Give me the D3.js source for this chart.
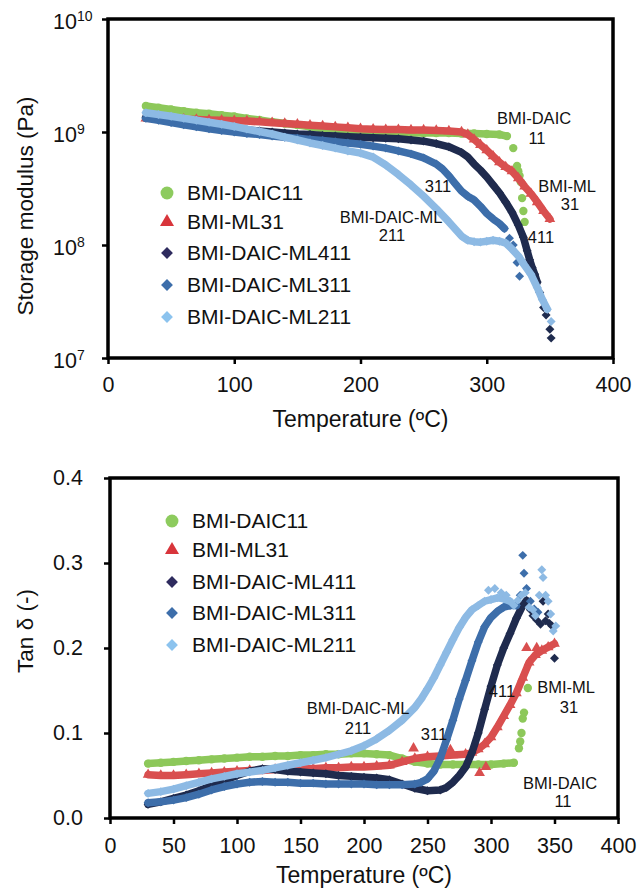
<!DOCTYPE html>
<html><head><meta charset="utf-8">
<script src="https://cdn.jsdelivr.net/npm/d3@7"></script>
<style>
body{margin:0;background:#fff}
text{font-family:Arial,"Liberation Sans",Helvetica,sans-serif;fill:#111}
</style>
</head><body>
<svg id="c" width="639" height="890"></svg>
<script>
// ---------- DATA ----------
const seriesNames = ["BMI-DAIC11","BMI-ML31","BMI-DAIC-ML411","BMI-DAIC-ML311","BMI-DAIC-ML211"];
const topXTicks = [0,100,200,300,400];
const topYTicks = [1e7,1e8,1e9,1e10];
const botXTicks = [0,50,100,150,200,250,300,350,400];
const botYTicks = [0,0.1,0.2,0.3,0.4];

// Storage modulus (Pa) vs temperature (°C): continuous part + scattered tail points
const E_DAIC11 = [[30,1.70e9],[40,1.64e9],[50,1.58e9],[60,1.53e9],[70,1.48e9],[80,1.45e9],[90,1.41e9],[100,1.37e9],[110,1.32e9],[120,1.28e9],[130,1.23e9],[140,1.19e9],[150,1.15e9],[160,1.11e9],[170,1.07e9],[180,1.05e9],[190,1.02e9],[200,1.00e9],[210,0.99e9],[220,0.98e9],[230,0.98e9],[240,0.98e9],[250,0.98e9],[260,0.98e9],[270,0.98e9],[280,0.97e9],[290,0.97e9],[300,0.96e9],[310,0.95e9],[316,0.92e9]];
const E_DAIC11_tail = [[321,7.2e8],[324,5.0e8],[325,4.5e8],[326,4.1e8],[327,3.6e8],[328,2.6e8],[329,2.0e8],[330,1.6e8]];
const E_ML31 = [[30,1.32e9],[40,1.31e9],[50,1.31e9],[60,1.30e9],[70,1.29e9],[80,1.28e9],[90,1.27e9],[100,1.26e9],[110,1.25e9],[120,1.23e9],[130,1.21e9],[140,1.19e9],[150,1.17e9],[160,1.15e9],[170,1.13e9],[180,1.11e9],[190,1.09e9],[200,1.07e9],[210,1.06e9],[220,1.05e9],[230,1.05e9],[240,1.04e9],[250,1.04e9],[260,1.03e9],[270,1.02e9],[280,1.00e9],[285,9.5e8],[290,8.6e8],[295,7.7e8],[300,6.9e8],[305,6.1e8],[310,5.4e8],[315,4.9e8],[320,4.5e8],[325,3.9e8],[330,3.3e8],[335,2.85e8],[340,2.4e8],[345,2.0e8],[350,1.7e8]];
const E_ML31_tail = [];
const E_ML411 = [[30,1.35e9],[40,1.31e9],[50,1.27e9],[60,1.22e9],[70,1.18e9],[80,1.14e9],[90,1.10e9],[100,1.07e9],[110,1.04e9],[120,1.02e9],[130,1.00e9],[140,0.98e9],[150,0.96e9],[160,0.95e9],[170,0.93e9],[180,0.92e9],[190,0.91e9],[200,0.90e9],[210,0.89e9],[220,0.88e9],[230,0.87e9],[240,0.85e9],[250,0.83e9],[260,0.79e9],[270,0.74e9],[280,0.66e9],[285,0.60e9],[290,0.52e9],[295,0.46e9],[300,0.40e9],[305,0.34e9],[310,0.29e9],[315,0.24e9],[320,0.195e9],[325,0.15e9],[329,0.117e9],[332,0.089e9],[334,7.4e7],[336,6.3e7],[338,5.5e7],[340,4.7e7]];
const E_ML411_tail = [[342,3.8e7],[345,2.8e7],[347,2.4e7],[350,1.8e7],[351,1.5e7]];
const E_ML311 = [[30,1.32e9],[40,1.27e9],[50,1.21e9],[60,1.16e9],[70,1.11e9],[80,1.07e9],[90,1.03e9],[100,1.00e9],[110,0.97e9],[120,0.95e9],[130,0.92e9],[140,0.90e9],[150,0.88e9],[160,0.86e9],[170,0.84e9],[180,0.82e9],[190,0.80e9],[200,0.78e9],[210,0.75e9],[220,0.72e9],[230,0.68e9],[240,0.64e9],[250,0.59e9],[260,0.52e9],[265,0.47e9],[270,0.41e9],[275,0.35e9],[280,0.30e9],[285,0.27e9],[290,0.25e9],[295,0.22e9],[300,0.19e9],[305,0.17e9],[310,0.155e9],[314,0.14e9]];
const E_ML311_tail = [[318,1.15e8],[321,1.0e8],[324,7.0e7],[326,5.3e7]];
const E_ML211 = [[30,1.48e9],[40,1.43e9],[50,1.38e9],[60,1.32e9],[70,1.27e9],[80,1.22e9],[90,1.17e9],[100,1.12e9],[110,1.06e9],[120,1.01e9],[130,0.96e9],[140,0.90e9],[150,0.85e9],[160,0.80e9],[170,0.76e9],[180,0.72e9],[190,0.68e9],[200,0.65e9],[210,0.60e9],[220,0.51e9],[230,0.42e9],[240,0.34e9],[250,0.27e9],[260,0.21e9],[270,0.16e9],[280,0.12e9],[285,0.11e9],[290,0.107e9],[295,0.106e9],[300,0.108e9],[305,0.11e9],[310,0.108e9],[315,0.104e9],[320,0.092e9],[325,0.08e9],[330,0.066e9],[335,0.055e9],[340,0.042e9],[344,0.033e9],[348,0.027e9]];
const E_ML211_tail = [[351,2.1e7]];

// Tan delta vs temperature (°C)
const D_DAIC11 = [[30,0.064],[40,0.065],[50,0.066],[60,0.067],[70,0.068],[80,0.069],[90,0.07],[100,0.071],[110,0.072],[120,0.072],[130,0.073],[140,0.073],[150,0.074],[160,0.074],[170,0.075],[180,0.075],[190,0.076],[200,0.076],[210,0.075],[220,0.074],[230,0.07],[240,0.066],[250,0.064],[260,0.063],[270,0.063],[280,0.063],[290,0.063],[300,0.063],[310,0.064],[318,0.065]];
const D_DAIC11_tail = [[322,0.082],[323,0.09],[324,0.1],[325,0.117],[326,0.124],[329,0.153]];
const D_ML31 = [[30,0.051],[40,0.05],[50,0.05],[60,0.051],[70,0.052],[80,0.053],[90,0.054],[100,0.055],[110,0.056],[120,0.056],[130,0.057],[140,0.057],[150,0.058],[160,0.058],[170,0.059],[180,0.059],[190,0.06],[200,0.06],[210,0.061],[220,0.062],[230,0.066],[240,0.07],[250,0.072],[260,0.073],[270,0.074],[280,0.075],[285,0.077],[290,0.081],[295,0.087],[300,0.095],[305,0.107],[310,0.12],[315,0.133],[320,0.147],[325,0.165],[330,0.183],[335,0.192],[340,0.197],[345,0.201],[350,0.205]];
const D_ML31_tail = [[239,0.082],[268,0.08],[291,0.053],[296,0.06],[328,0.2],[336,0.2]];
const D_ML411 = [[30,0.016],[40,0.019],[50,0.023],[60,0.027],[70,0.032],[80,0.038],[90,0.044],[100,0.05],[110,0.055],[120,0.058],[130,0.057],[140,0.055],[150,0.054],[160,0.053],[170,0.052],[180,0.05],[190,0.049],[200,0.048],[210,0.047],[220,0.045],[230,0.04],[240,0.035],[250,0.032],[260,0.033],[265,0.036],[270,0.042],[275,0.05],[280,0.06],[285,0.077],[290,0.1],[295,0.128],[300,0.155],[305,0.18],[310,0.2],[315,0.217],[320,0.235],[325,0.25],[328,0.256]];
const D_ML411_tail = [[331,0.245],[333,0.238],[336,0.233],[339,0.228],[341,0.255],[343,0.232],[345,0.24],[346,0.229],[348,0.226],[350,0.188]];
const D_ML311 = [[30,0.018],[40,0.019],[50,0.021],[60,0.024],[70,0.028],[80,0.033],[90,0.037],[100,0.04],[110,0.042],[120,0.043],[130,0.042],[140,0.042],[150,0.041],[160,0.041],[170,0.04],[180,0.04],[190,0.04],[200,0.04],[210,0.039],[220,0.039],[230,0.039],[240,0.04],[245,0.042],[250,0.046],[255,0.055],[260,0.07],[265,0.092],[270,0.115],[275,0.14],[280,0.162],[285,0.185],[290,0.207],[295,0.225],[300,0.236],[305,0.243],[310,0.248],[315,0.25],[320,0.25]];
const D_ML311_tail = [[323,0.262],[325,0.309],[326,0.288],[328,0.27],[331,0.255],[334,0.246],[337,0.242]];
const D_ML211 = [[30,0.029],[40,0.031],[50,0.034],[60,0.038],[70,0.042],[80,0.046],[90,0.049],[100,0.052],[110,0.054],[120,0.056],[130,0.059],[140,0.062],[150,0.065],[160,0.068],[170,0.071],[180,0.075],[190,0.079],[200,0.085],[210,0.093],[220,0.103],[230,0.115],[240,0.13],[245,0.14],[250,0.152],[255,0.165],[260,0.18],[265,0.195],[270,0.21],[275,0.224],[280,0.236],[285,0.245],[290,0.25],[295,0.255],[300,0.257],[305,0.259],[310,0.258],[315,0.255]];
const D_ML211_tail = [[298,0.268],[303,0.27],[308,0.265],[312,0.262],[318,0.25],[321,0.256],[324,0.262],[327,0.265],[330,0.248],[333,0.245],[335,0.238],[338,0.262],[340,0.292],[341,0.283],[343,0.262],[345,0.255],[347,0.24],[349,0.22],[351,0.226]];

// Annotation labels [text, x, y]
const topNotes = [["BMI-DAIC",534,118],["11",537,138],["BMI-ML",567,186],["31",570,204],["311",438,186],["BMI-DAIC-ML",391,217],["211",392,235],["411",541,237]];
const botNotes = [["BMI-DAIC-ML",358,708],["211",358,728],["311",434,734],["411",502,691],["BMI-ML",566,687],["31",569,707],["BMI-DAIC",560,783],["11",563,801]];

// ---------- STYLE ----------
const colors = ["#8DC85A","#D94F4F","#1F2B4E","#3D6EAA","#8DBAE4"];
const legendColors = ["#8DCB5E","#D8353B","#2E2B5E","#3D6EAA","#8CC3EE"];
const shapes = [d3.symbolCircle,d3.symbolTriangle,d3.symbolSquare,d3.symbolSquare,d3.symbolSquare];
const rot = [0,0,45,45,45];
const markSize = [55,50,40,40,40];
const legSize = [130,85,70,70,70];
const svg = d3.select("#c");

function drawSeries(g, x, y, dense, tails, lw){
  const line = d3.line().x(d=>x(d[0])).y(d=>y(d[1]));
  dense.forEach((s,i)=>{
    g.append("path").attr("d",line(s)).attr("fill","none").attr("stroke",colors[i])
      .attr("stroke-width",lw).attr("stroke-linejoin","round").attr("stroke-linecap","round");
    const pts = s.concat(tails[i]);
    g.selectAll(null).data(pts).enter().append("path")
      .attr("d",d3.symbol().type(shapes[i]).size(markSize[i]))
      .attr("transform",d=>`translate(${x(d[0])},${y(d[1])}) rotate(${rot[i]})`)
      .attr("fill",colors[i]);
  });
}

function legend(g, mx, tx, rows){
  seriesNames.forEach((n,i)=>{
    g.append("path").attr("d",d3.symbol().type(shapes[i]).size(legSize[i]))
      .attr("transform",`translate(${mx},${rows[i]}) rotate(${rot[i]})`).attr("fill",legendColors[i]);
    g.append("text").attr("x",tx).attr("y",rows[i]).attr("dy","0.35em")
      .attr("font-size",21).text(n);
  });
}

function notes(g, arr){
  arr.forEach(a=>{
    g.append("text").attr("x",a[1]).attr("y",a[2]).attr("dy","0.35em")
      .attr("text-anchor","middle").attr("font-size",16.5).text(a[0]);
  });
}

function styleAxis(ax){
  ax.select(".domain").remove();
  ax.selectAll(".tick line").attr("stroke","#000").attr("stroke-width",2.5);
  ax.selectAll(".tick text").attr("font-size",21.5).attr("fill","#111")
    .attr("font-family","Arial, 'Liberation Sans', sans-serif");
}

// ---------- TOP PANEL ----------
{
  const L=108,R=613,T=19,B=358;
  const x = d3.scaleLinear().domain([0,400]).range([L,R]);
  const y = d3.scaleLog().domain([1e7,1e10]).range([B,T]);
  const g = svg.append("g");
  drawSeries(g,x,y,[E_DAIC11,E_ML31,E_ML411,E_ML311,E_ML211],
    [E_DAIC11_tail,E_ML31_tail,E_ML411_tail,E_ML311_tail,E_ML211_tail],7.5);
  g.append("rect").attr("x",L).attr("y",T).attr("width",R-L).attr("height",B-T)
    .attr("fill","none").attr("stroke","#000").attr("stroke-width",3.5);
  const ax = g.append("g").attr("transform",`translate(0,${B})`)
    .call(d3.axisBottom(x).tickValues(topXTicks).tickSize(6).tickPadding(13));
  styleAxis(ax);
  const ay = g.append("g").attr("transform",`translate(${L},0)`)
    .call(d3.axisLeft(y).tickValues(topYTicks).tickSize(6).tickFormat(""));
  styleAxis(ay);
  topYTicks.forEach(v=>{
    const t = g.append("text").attr("x",53).attr("y",y(v)+10).attr("font-size",21.5);
    t.append("tspan").text("10");
    t.append("tspan").attr("font-size",14).attr("dy",-8).text(String(Math.round(Math.log10(v))));
  });
  g.append("text").attr("x",(L+R)/2).attr("y",427).attr("text-anchor","middle")
    .attr("font-size",23).text("Temperature (ºC)");
  g.append("text").attr("transform","translate(33,206) rotate(-90)").attr("text-anchor","middle")
    .attr("font-size",22.5).text("Storage modulus (Pa)");
  legend(g,167,187,[193,222,253,285,317]);
  notes(g,topNotes);
}

// ---------- BOTTOM PANEL ----------
{
  const L=110,R=618,T=478,B=818;
  const x = d3.scaleLinear().domain([0,400]).range([L,R]);
  const y = d3.scaleLinear().domain([0,0.4]).range([B,T]);
  const g = svg.append("g");
  drawSeries(g,x,y,[D_DAIC11,D_ML31,D_ML411,D_ML311,D_ML211],
    [D_DAIC11_tail,D_ML31_tail,D_ML411_tail,D_ML311_tail,D_ML211_tail],7.5);
  g.append("rect").attr("x",L).attr("y",T).attr("width",R-L).attr("height",B-T)
    .attr("fill","none").attr("stroke","#000").attr("stroke-width",3.5);
  const ax = g.append("g").attr("transform",`translate(0,${B})`)
    .call(d3.axisBottom(x).tickValues(botXTicks).tickSize(6).tickPadding(14));
  styleAxis(ax);
  const ay = g.append("g").attr("transform",`translate(${L},0)`)
    .call(d3.axisLeft(y).tickValues(botYTicks).tickSize(6).tickPadding(21).tickFormat(d3.format(".1f")));
  styleAxis(ay);
  g.append("text").attr("x",(L+R)/2).attr("y",883).attr("text-anchor","middle")
    .attr("font-size",23).text("Temperature (ºC)");
  g.append("text").attr("transform","translate(33,631) rotate(-90)").attr("text-anchor","middle")
    .attr("font-size",22.5).text("Tan δ (-)");
  legend(g,172,192,[521,550,582,613,645]);
  notes(g,botNotes);
}
</script>
</body></html>
